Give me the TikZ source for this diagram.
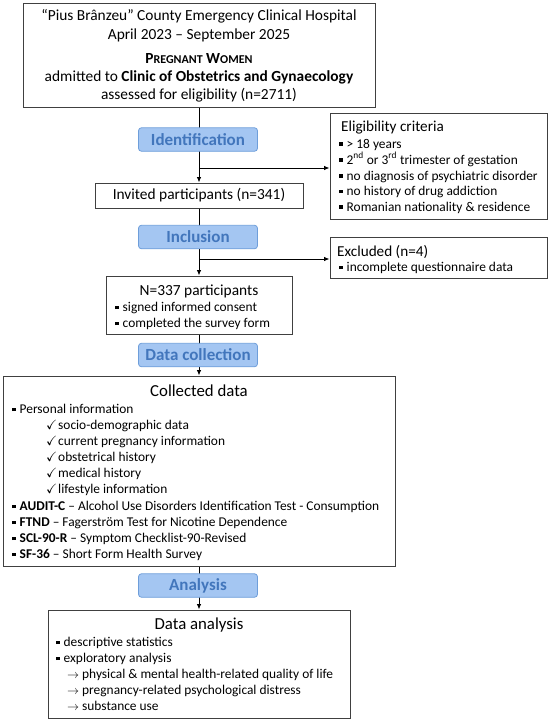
\documentclass[tikz,border=0pt]{standalone}
\usepackage{fontspec}
\setmainfont{Carlito}
\usepackage{amssymb}
\usetikzlibrary{arrows.meta}
\definecolor{boxline}{RGB}{64,64,64}
\definecolor{lblfill}{RGB}{164,198,242}
\definecolor{lbldraw}{RGB}{110,158,218}
\definecolor{lbltext}{RGB}{66,118,188}
\newcommand\sqbul{\makebox[7.5pt][l]{\raisebox{2.3pt}{\rule{3.4pt}{3.4pt}}}}
\newcommand\chk{\makebox[12pt][l]{$\checkmark$}}
\newcommand\arr{\makebox[15pt][l]{\fontsize{11.5}{13}\selectfont$\rightarrow$}}
\newcommand\smc[1]{{\fontsize{12}{14}\selectfont #1}}
\tikzset{
  box/.style={draw=boxline, line width=1pt, inner sep=0pt, fill=white},
  lbl/.style={draw=lbldraw, line width=0.8pt, fill=lblfill, rounded corners=3pt,
    minimum width=119pt, minimum height=23.5pt, inner sep=0pt,
    text=lbltext, font=\fontsize{17}{20}\selectfont\bfseries},
  conn/.style={draw=black, line width=0.9pt, -{Latex[length=5.5pt,width=4.5pt]}},
  ttl/.style={anchor=base, inner sep=0pt, font=\fontsize{15.4}{18}\selectfont},
  ttlw/.style={anchor=base west, inner sep=0pt, font=\fontsize{15.2}{18}\selectfont},
  big/.style={anchor=base, inner sep=0pt, font=\fontsize{16.8}{20}\selectfont},
  lst/.style={anchor=base west, inner sep=0pt, font=\fontsize{13.4}{16}\selectfont},
}
\begin{document}
\begin{tikzpicture}[x=1pt,y=-1pt]
\useasboundingbox (0,0) rectangle (550,721);
% boxes
\node[box, minimum width=352pt, minimum height=104pt] (top) at (199,55) {};
\node[box, minimum width=217pt, minimum height=106pt] (elig) at (438.5,166) {};
\node[box, minimum width=208pt, minimum height=25pt] (inv) at (199,195.5) {};
\node[box, minimum width=217pt, minimum height=41pt] (excl) at (438.5,257.5) {};
\node[box, minimum width=186pt, minimum height=58pt] (n337) at (199,305) {};
\node[box, minimum width=392pt, minimum height=190pt] (coll) at (199,471) {};
\node[box, minimum width=302pt, minimum height=108pt] (da) at (199,664) {};
% connectors
\draw[conn] (top.south) -- (inv.north);
\draw[conn] (inv.south) -- (n337.north);
\draw[conn] (n337.south) -- (coll.north);
\draw[conn] (coll.south) -- (da.north);
\coordinate (b1) at (199,168);
\coordinate (b2) at (199,259);
\draw[conn] (b1) -- (b1 -| elig.west);
\draw[conn] (b2) -- (b2 -| excl.west);
% stage labels
\node[lbl] (lid) at (198,139.5) {Identification};
\node[lbl] (lin) at (198,237) {Inclusion};
\node[lbl] (ldc) at (198,355) {Data collection};
\node[lbl] (lan) at (198,585.5) {Analysis};
% top box text
\node[ttl] (t1) at (199,20) {“Pius Brânzeu” County Emergency Clinical Hospital};
\node[ttl] (t2) at (199,39) {April 2023 – September 2025};
\node[ttl] (t3) at (199,63) {\textbf{P\smc{REGNANT} W\smc{OMEN}}};
\node[ttl] (t4) at (199,81) {admitted to \textbf{Clinic of Obstetrics and Gynaecology}};
\node[ttl] (t5) at (199,99) {assessed for eligibility (n=2711)};
% eligibility
\node[ttlw] (e0) at (341,131.5) {Eligibility criteria};
\node[lst] (e1) at (339,148) {\sqbul> 18 years};
\node[lst] (e2) at (339,164) {\sqbul2\textsuperscript{nd} or 3\textsuperscript{rd} trimester of gestation};
\node[lst] (e3) at (339,180) {\sqbul no diagnosis of psychiatric disorder};
\node[lst] (e4) at (339,195.5) {\sqbul no history of drug addiction};
\node[lst] (e5) at (339,211) {\sqbul Romanian nationality \& residence};
% invited
\node[inner sep=0pt, font=\fontsize{15.4}{18}\selectfont] (i1) at (inv.center) {Invited participants (n=341)};
% excluded
\node[ttlw] (x0) at (337,256) {Excluded (n=4)};
\node[lst] (x1) at (339,271.3) {\sqbul incomplete questionnaire data};
% n=337
\node[ttl] (n0) at (199,295) {N=337 participants};
\node[lst] (n1) at (115,311.3) {\sqbul signed informed consent};
\node[lst] (n2) at (115,327.3) {\sqbul completed the survey form};
% collected data
\node[big] (c0) at (199,396.5) {Collected data};
\node[lst] (c1) at (12,413.3) {\sqbul Personal information};
\node[lst] (c2) at (46,429.3) {\chk socio-demographic data};
\node[lst] (c3) at (46,445.3) {\chk current pregnancy information};
\node[lst] (c4) at (46,461.3) {\chk obstetrical history};
\node[lst] (c5) at (46,477.3) {\chk medical history};
\node[lst] (c6) at (46,493.3) {\chk lifestyle information};
\node[lst] (c7) at (12,510.3) {\sqbul\textbf{AUDIT-C} – Alcohol Use Disorders Identification Test - Consumption};
\node[lst] (c8) at (12,526.3) {\sqbul\textbf{FTND} – Fagerström Test for Nicotine Dependence};
\node[lst] (c9) at (12,542.3) {\sqbul\textbf{SCL-90-R} – Symptom Checklist-90-Revised};
\node[lst] (c10) at (12,558.3) {\sqbul\textbf{SF-36} – Short Form Health Survey};
% data analysis
\node[big] (d0) at (199,629.5) {Data analysis};
\node[lst] (d1) at (56,646.3) {\sqbul descriptive statistics};
\node[lst] (d2) at (56,662.3) {\sqbul exploratory analysis};
\node[lst] (d3) at (67,678.3) {\arr physical \& mental health-related quality of life};
\node[lst] (d4) at (67,694.3) {\arr pregnancy-related psychological distress};
\node[lst] (d5) at (67,710.3) {\arr substance use};
\end{tikzpicture}
\end{document}
